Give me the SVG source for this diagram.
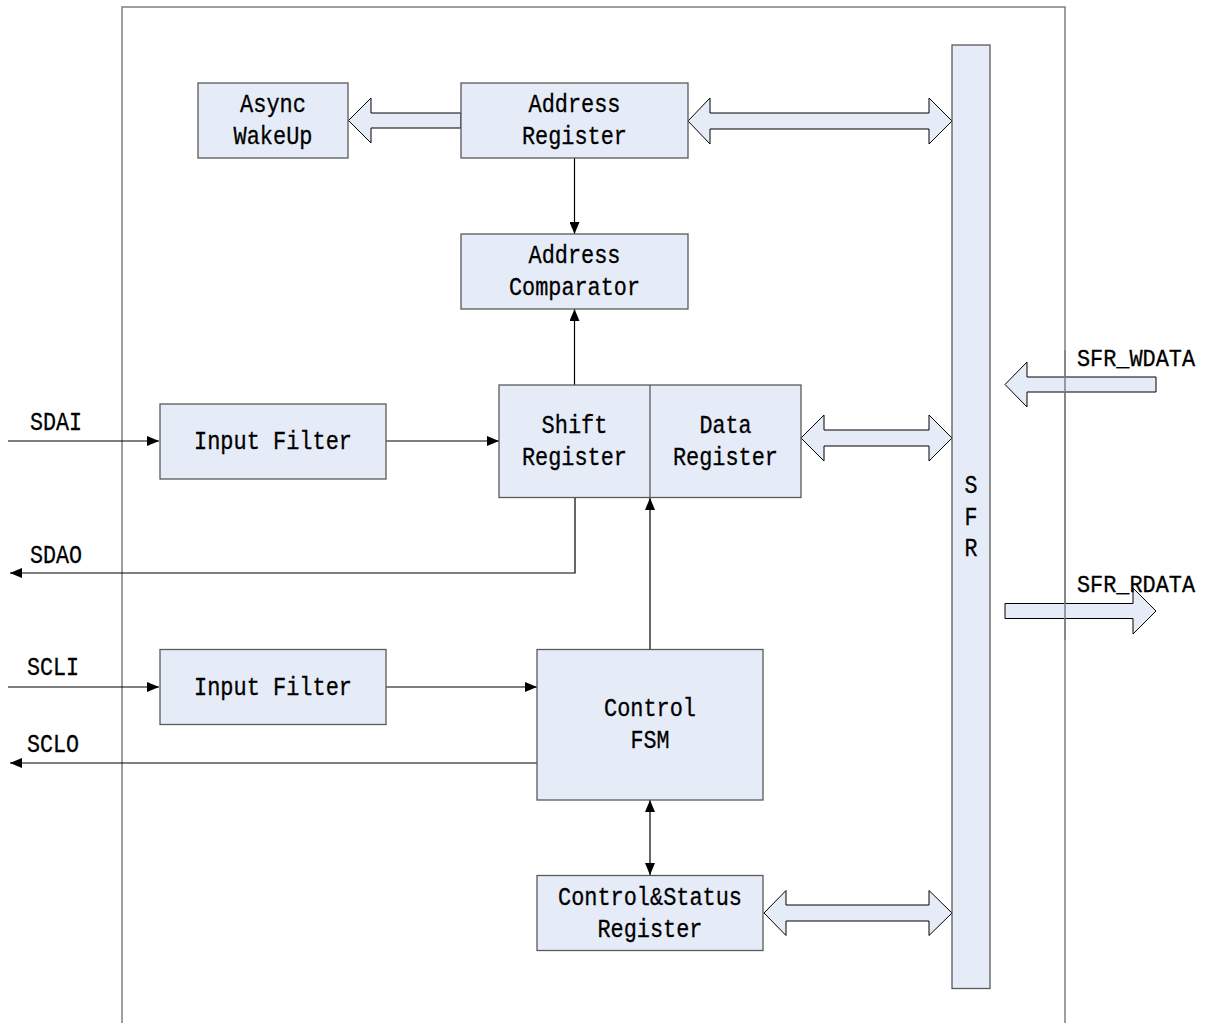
<svg xmlns="http://www.w3.org/2000/svg" width="1205" height="1023" viewBox="0 0 1205 1023">
<defs>
<style>
.box{fill:#E6ECF7;stroke:#5a5a5a;stroke-width:1.3}
.frame{fill:none;stroke:#7f7f7f;stroke-width:1.5}
.conn{fill:none;stroke:#000;stroke-width:1.2}
.hollow{fill:#E6ECF7;stroke:#000;stroke-width:1}
.t{font-family:"Liberation Mono","DejaVu Sans Mono",monospace;font-size:26px;fill:#000;stroke:#000;stroke-width:0.3;text-anchor:middle}
.l{font-family:"Liberation Mono","DejaVu Sans Mono",monospace;font-size:26px;fill:#000;stroke:#000;stroke-width:0.3}
.r{font-family:"Liberation Mono","DejaVu Sans Mono",monospace;font-size:23px;fill:#000;stroke:#000;stroke-width:0.3}
</style>
<marker id="ah" viewBox="0 0 12 10" refX="12" refY="5" markerWidth="12" markerHeight="10" markerUnits="userSpaceOnUse" orient="auto-start-reverse">
<path d="M0,0 L12,5 L0,10 z" fill="#000"/>
</marker>
</defs>
<rect width="1205" height="1023" fill="#fff"/>

<g id="frame">
<polyline class="frame" points="122,1023 122,7 1065,7 1065,1023"/>
</g>

<g id="connectors">
<line class="conn" x1="574.5" y1="158" x2="574.5" y2="234" marker-end="url(#ah)"/>
<line class="conn" x1="574.5" y1="385" x2="574.5" y2="309" marker-end="url(#ah)"/>
<line class="conn" x1="8" y1="441" x2="159" y2="441" marker-end="url(#ah)"/>
<line class="conn" x1="386" y1="441" x2="499" y2="441" marker-end="url(#ah)"/>
<polyline class="conn" points="575,498 575,573 10,573" marker-end="url(#ah)"/>
<line class="conn" x1="650" y1="649" x2="650" y2="498" marker-end="url(#ah)"/>
<line class="conn" x1="8" y1="687" x2="159" y2="687" marker-end="url(#ah)"/>
<line class="conn" x1="386" y1="687" x2="537" y2="687" marker-end="url(#ah)"/>
<line class="conn" x1="537" y1="763" x2="10" y2="763" marker-end="url(#ah)"/>
<line class="conn" x1="650" y1="800" x2="650" y2="875" marker-start="url(#ah)" marker-end="url(#ah)"/>
<polygon class="hollow" points="461,113 371,113 371,98 348.5,120.5 371,143 371,128 461,128"/>
<polygon class="hollow" points="688,121 710,98 710,113 929,113 929,98 952,121 929,144 929,129 710,129 710,144"/>
<polygon class="hollow" points="801,438 824,415 824,430 929,430 929,415 952,438 929,461 929,446 824,446 824,461"/>
<polygon class="hollow" points="764,913 786,890.5 786,905 929,905 929,890.5 952,913 929,935.5 929,921 786,921 786,935.5"/>
<polygon class="hollow" points="1156,377 1027,377 1027,362 1005,384.5 1027,407 1027,392 1156,392"/>
<polygon class="hollow" points="1005,603.5 1133,603.5 1133,588 1156,611 1133,634 1133,618.5 1005,618.5"/>
<line x1="1065" y1="350" x2="1065" y2="640" stroke="#7f7f7f" stroke-width="1.5"/>
</g>

<g id="async-wakeup">
<rect class="box" x="198" y="83" width="150" height="75"/>
<text class="t" x="273" y="112" textLength="66" lengthAdjust="spacingAndGlyphs">Async</text>
<text class="t" x="273" y="144" textLength="79" lengthAdjust="spacingAndGlyphs">WakeUp</text>
</g>

<g id="address-register">
<rect class="box" x="461" y="83" width="227" height="75"/>
<text class="t" x="574.5" y="112" textLength="92" lengthAdjust="spacingAndGlyphs">Address</text>
<text class="t" x="574.5" y="144" textLength="105" lengthAdjust="spacingAndGlyphs">Register</text>
</g>

<g id="address-comparator">
<rect class="box" x="461" y="234" width="227" height="75"/>
<text class="t" x="574.5" y="263" textLength="92" lengthAdjust="spacingAndGlyphs">Address</text>
<text class="t" x="574.5" y="295" textLength="131" lengthAdjust="spacingAndGlyphs">Comparator</text>
</g>

<g id="shift-data-register">
<rect class="box" x="499" y="385" width="302" height="112.5"/>
<line x1="650" y1="385" x2="650" y2="497.5" stroke="#5a5a5a" stroke-width="1.3"/>
<text class="t" x="574.5" y="433" textLength="66" lengthAdjust="spacingAndGlyphs">Shift</text>
<text class="t" x="574.5" y="465" textLength="105" lengthAdjust="spacingAndGlyphs">Register</text>
<text class="t" x="725.5" y="433" textLength="52" lengthAdjust="spacingAndGlyphs">Data</text>
<text class="t" x="725.5" y="465" textLength="105" lengthAdjust="spacingAndGlyphs">Register</text>
</g>

<g id="input-filter-sda">
<rect class="box" x="160" y="404" width="226" height="75"/>
<text class="t" x="273" y="449" textLength="158" lengthAdjust="spacingAndGlyphs">Input Filter</text>
</g>

<g id="input-filter-scl">
<rect class="box" x="160" y="649.5" width="226" height="75"/>
<text class="t" x="273" y="695" textLength="158" lengthAdjust="spacingAndGlyphs">Input Filter</text>
</g>

<g id="control-fsm">
<rect class="box" x="537" y="649.5" width="226" height="150.5"/>
<text class="t" x="650" y="716" textLength="92" lengthAdjust="spacingAndGlyphs">Control</text>
<text class="t" x="650" y="748" textLength="39" lengthAdjust="spacingAndGlyphs">FSM</text>
</g>

<g id="control-status-register">
<rect class="box" x="537" y="875.5" width="226" height="75"/>
<text class="t" x="650" y="905" textLength="184" lengthAdjust="spacingAndGlyphs">Control&amp;Status</text>
<text class="t" x="650" y="937" textLength="105" lengthAdjust="spacingAndGlyphs">Register</text>
</g>

<g id="sfr">
<rect class="box" x="952" y="45" width="38" height="943.5"/>
<text class="t" x="971" y="493" textLength="13" lengthAdjust="spacingAndGlyphs">S</text>
<text class="t" x="971" y="525" textLength="13" lengthAdjust="spacingAndGlyphs">F</text>
<text class="t" x="971" y="556" textLength="13" lengthAdjust="spacingAndGlyphs">R</text>
</g>

<g id="labels">
<text class="l" x="30" y="430" textLength="52" lengthAdjust="spacingAndGlyphs">SDAI</text>
<text class="l" x="30" y="563" textLength="52" lengthAdjust="spacingAndGlyphs">SDAO</text>
<text class="l" x="27" y="675" textLength="52" lengthAdjust="spacingAndGlyphs">SCLI</text>
<text class="l" x="27" y="752" textLength="52" lengthAdjust="spacingAndGlyphs">SCLO</text>
<text class="r" x="1077" y="366" textLength="118" lengthAdjust="spacingAndGlyphs">SFR_WDATA</text>
<text class="r" x="1077" y="592" textLength="118" lengthAdjust="spacingAndGlyphs">SFR_RDATA</text>
</g>
</svg>
